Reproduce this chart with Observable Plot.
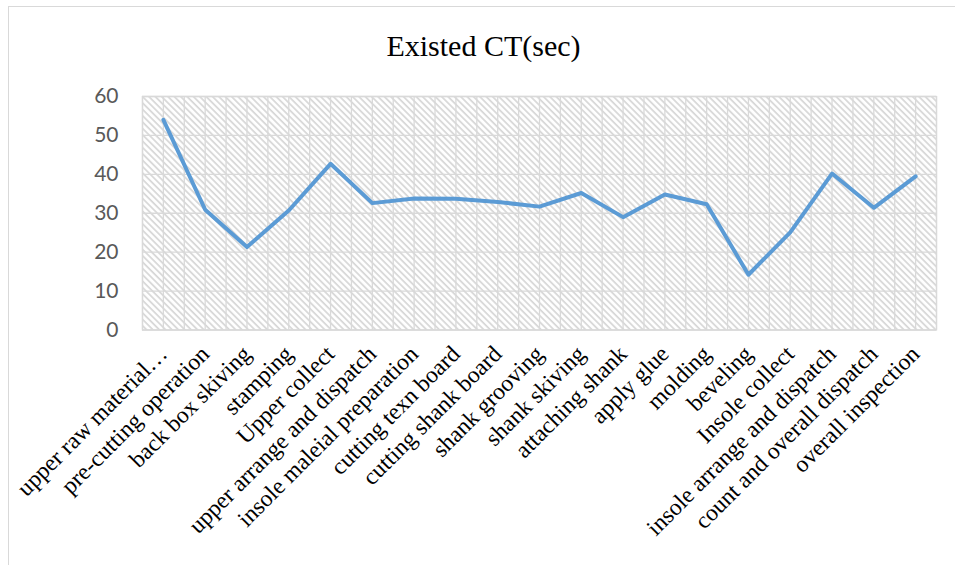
<!DOCTYPE html>
<html>
<head>
<meta charset="utf-8">
<script src="https://cdn.jsdelivr.net/npm/d3@7"></script>
<script src="https://cdn.jsdelivr.net/npm/@observablehq/plot@0.6"></script>
<style>
  html, body { margin: 0; padding: 0; background: #fff; }
  #chart { position: relative; width: 955px; height: 565px; overflow: hidden; }
  #border { position: absolute; left: 8px; top: 6px; width: 980px; height: 600px;
            border-left: 1.5px solid #d9d9d9; border-top: 1.5px solid #d9d9d9; }
  #title { position: absolute; left: 0; top: 28px; width: 967px; text-align: center;
           font-family: "Liberation Serif", serif; font-size: 30px; color: #000; line-height: 36px; }
  #plot { position: absolute; left: 0; top: 0; }
</style>
</head>
<body>
<div id="chart">
  <div id="border"></div>
  <div id="plot"></div>
  <div id="title">Existed CT(sec)</div>
</div>
<script>
// Process steps along the production line
const categories = [
  "upper raw material…",
  "pre-cutting operation",
  "back box skiving",
  "stamping",
  "Upper collect",
  "upper arrange and dispatch",
  "insole maleial preparation",
  "cutting texn board",
  "cutting shank board",
  "shank grooving",
  "shank skiving",
  "attaching shank",
  "apply glue",
  "molding",
  "beveling",
  "Insole collect",
  "insole arrange and dispatch",
  "count and overall dispatch",
  "overall inspection"
];

// Existing cycle time of each step, in seconds
const ctSeconds = [
  54.0, 30.9, 21.3, 30.7, 42.7, 32.6, 33.8, 33.7, 32.9, 31.7,
  35.2, 29.0, 34.8, 32.3, 14.2, 25.1, 40.2, 31.4, 39.5
];

// Value axis ticks
const yTicks = [0, 10, 20, 30, 40, 50, 60];

const rows = categories.map((name, i) => ({ i, name, ct: ctSeconds[i] }));
const n = categories.length;
// vertical gridlines at each category centre and boundary
const xGrid = d3.range(-0.5, n, 0.5);

const grid = "#d9d9d9";

const chart = Plot.plot({
  width: 955,
  height: 565,
  marginLeft: 142,
  marginRight: 19,
  marginTop: 96,
  marginBottom: 235.5,
  style: { background: "transparent", overflow: "visible" },
  x: { type: "linear", domain: [-0.5, n - 0.5] },
  y: { domain: [0, 60] },
  marks: [
    Plot.frame({ fill: "url(#hatch)", stroke: null }),
    Plot.ruleX(xGrid, { stroke: grid, strokeWidth: 1.3 }),
    Plot.ruleY(yTicks, { stroke: grid, strokeWidth: 1.3 }),
    Plot.frame({ stroke: grid, strokeWidth: 1.3 }),
    Plot.axisY({
      ticks: yTicks, tickSize: 0, tickPadding: 24, label: null,
      fontSize: 21, fontFamily: "Lato, 'Open Sans', sans-serif", fill: "#595959"
    }),
    Plot.axisX({
      ticks: d3.range(n), tickFormat: (i) => categories[i], tickRotate: -45,
      tickSize: 0, tickPadding: 20, label: null,
      fontSize: 23.5, fontFamily: "'Liberation Serif', serif", fill: "#000"
    }),
    Plot.line(rows, {
      x: "i", y: "ct", stroke: "#5b9bd5", strokeWidth: 4,
      strokeLinejoin: "round", strokeLinecap: "round"
    })
  ]
});

// diagonal hatch used as the plot area fill
const ns = "http://www.w3.org/2000/svg";
const defs = document.createElementNS(ns, "defs");
const pat = document.createElementNS(ns, "pattern");
pat.setAttribute("id", "hatch");
pat.setAttribute("patternUnits", "userSpaceOnUse");
pat.setAttribute("width", "4.5");
pat.setAttribute("height", "4.5");
pat.setAttribute("patternTransform", "rotate(-45)");
const bg = document.createElementNS(ns, "rect");
bg.setAttribute("width", "4.5");
bg.setAttribute("height", "4.5");
bg.setAttribute("fill", "#ffffff");
const stripe = document.createElementNS(ns, "line");
stripe.setAttribute("x1", "1");
stripe.setAttribute("y1", "0");
stripe.setAttribute("x2", "1");
stripe.setAttribute("y2", "4.5");
stripe.setAttribute("stroke", "#d6d6d6");
stripe.setAttribute("stroke-width", "1.7");
pat.appendChild(bg);
pat.appendChild(stripe);
defs.appendChild(pat);
chart.insertBefore(defs, chart.firstChild);

document.getElementById("plot").appendChild(chart);
</script>
</body>
</html>
